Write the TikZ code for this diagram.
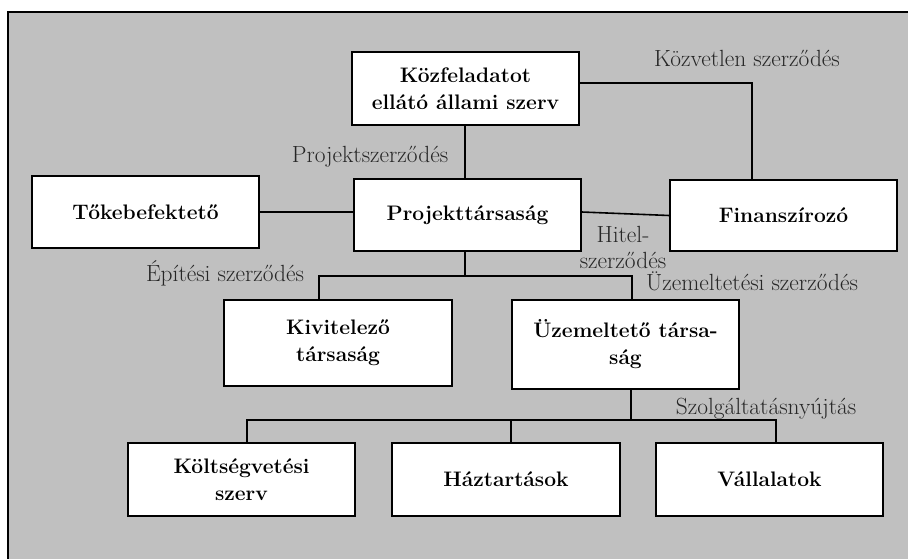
\documentclass[tikz,border=0pt]{standalone}
\usepackage{fontspec}
\begin{document}
\begin{tikzpicture}[x=1pt,y=-1pt,
  box/.style={draw=black,line width=1.6pt,fill=white,inner sep=0pt,
    minimum width=227pt,minimum height=72pt,align=center,
    font=\fontsize{21}{27}\selectfont\bfseries},
  lbl/.style={anchor=base,inner sep=0pt,text=black!85,align=center,
    font=\fontsize{23.4}{26}\selectfont},
  conn/.style={line width=1.6pt,draw=black}]
\useasboundingbox (0,0) rectangle (908,558);
\clip (0,0) rectangle (908,558);
% grey panel with a black frame
\draw[fill={rgb,255:red,192;green,192;blue,192},line width=1.6pt] (8,12) rectangle (914,564);

% boxes
\node[box,minimum height=73pt] (kozf) at (465.5,88.5) {Közfeladatot\\ellátó állami szerv};
\node[box] (toke) at (145.5,212) {Tőkebefektető};
\node[box] (proj) at (467.5,215) {Projekttársaság};
\node[box,minimum height=71pt] (fin) at (783.5,215.5) {Finanszírozó};
\node[box,minimum width=228pt,minimum height=86pt] (kiv) at (338,343) {Kivitelező\\társaság};
\node[box,minimum height=89pt] (uz) at (625.5,344.5) {Üzemeltető társa-\\ság};
\node[box,minimum height=73pt] (kolt) at (241.5,479.5) {Költségvetési\\szerv};
\node[box,minimum width=228pt,minimum height=73pt] (haz) at (506,479.5) {Háztartások};
\node[box,minimum height=73pt] (vall) at (769.5,479.5) {Vállalatok};

% bends and bus bars of the connectors
\coordinate (kv) at (752,83);
\coordinate (busA) at (465,276);
\coordinate (busAl) at (319,276);
\coordinate (busAr) at (632,276);
\coordinate (busB) at (631,420);
\coordinate (busBl) at (247,420);
\coordinate (busBm) at (511,420);
\coordinate (busBr) at (776,420);

% connectors
\draw[conn] (kozf.south -| busA) -- (busA |- proj.north);
\draw[conn] (kozf.east |- kv) -- (kv) -- (kv |- fin.north);
\draw[conn] (toke.east) -- (toke.east -| proj.west);
\draw[conn] ([yshift=3pt]proj.east) -- (fin.west);
\draw[conn] (proj.south -| busA) -- (busA);
\draw[conn] (busAl |- kiv.north) -- (busAl) -- (busAr) -- (busAr |- uz.north);
\draw[conn] (uz.south -| busB) -- (busB);
\draw[conn] (busBl |- kolt.north) -- (busBl) -- (busBr) -- (busBr |- vall.north);
\draw[conn] (busBm) -- (busBm |- haz.north);

% contract labels (base of a two-line label is its last line)
\node[lbl] (lproj) at (370,162) {Projektszerződés};
\node[lbl] (lkozv) at (747,66) {Közvetlen szerződés};
\node[lbl] (lhit) at (623,268) {Hitel-\\szerződés};
\node[lbl] (lepit) at (225,281) {Építési szerződés};
\node[lbl] (luzem) at (752,290) {Üzemeltetési szerződés};
\node[lbl] (lszolg) at (766,414) {Szolgáltatásnyújtás};
\end{tikzpicture}
\end{document}
